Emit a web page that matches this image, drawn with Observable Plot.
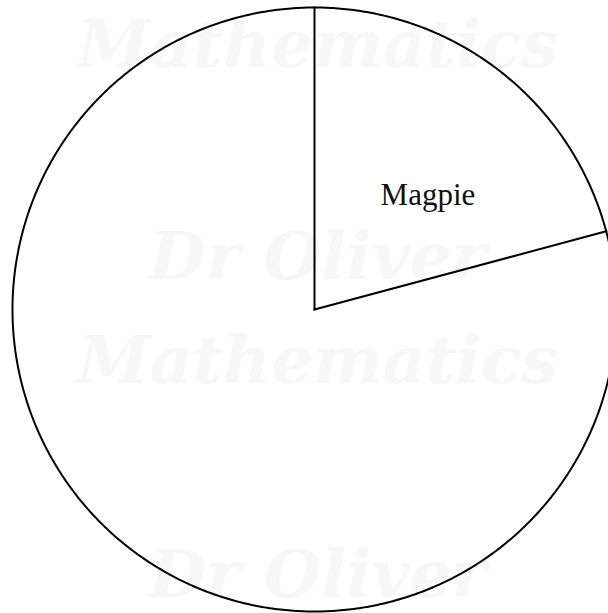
<!DOCTYPE html>
<html>
<head>
<meta charset="utf-8">
<script src="https://cdn.jsdelivr.net/npm/d3@7"></script>
<script src="https://cdn.jsdelivr.net/npm/@observablehq/plot@0.6"></script>
<style>
  html, body { margin: 0; padding: 0; background: #fff; }
  #chart svg { display: block; }
</style>
</head>
<body>
<div id="chart"></div>
<script>
// Slice data (degrees of the full circle)
const categories = ["Magpie", "Other"];
const values = [75, 285];
const labels = ["Magpie", ""];
const watermark = ["Mathematics", "Dr Oliver", "Mathematics", "Dr Oliver"];

const total = d3.sum(values);
let acc = 0;
const slices = categories.map((c, i) => {
  const a0 = acc / total * 2 * Math.PI;
  acc += values[i];
  const a1 = acc / total * 2 * Math.PI;
  return {category: c, label: labels[i], a0, a1, mid: (a0 + a1) / 2};
});

// circle outline (geometry only)
const outline = d3.range(0, 721).map(d => {
  const a = d / 720 * 2 * Math.PI;
  return {x: Math.sin(a), y: Math.cos(a)};
});

const radii = slices.map(s => ({x1: 0, y1: 0, x2: Math.sin(s.a0), y2: Math.cos(s.a0)}));

const labelR = 0.53;
const labelData = slices.filter(s => s.label).map(s => ({
  x: labelR * Math.sin(s.mid), y: labelR * Math.cos(s.mid), text: s.label
}));

// watermark rows, stacked down the frame
const wmRows = [0.874, 0.172, -0.175, -0.881];
const wm = watermark.map((t, i) => ({text: t, x: 0.01, y: wmRows[i]}));

const chart = Plot.plot({
  width: 608,
  height: 613,
  margin: 0,
  x: {domain: [-1.0397, 0.9735], axis: null},
  y: {domain: [-1.0066, 1.0232], axis: null},
  marks: [
    Plot.text(wm, {
      x: "x", y: "y",
      text: "text",
      fontSize: 66,
      fontStyle: "italic",
      fontWeight: "bold",
      fontFamily: "DejaVu Serif",
      fill: "#f7f7f7",
      lineAnchor: "middle"
    }),
    Plot.line(outline, {x: "x", y: "y", stroke: "black", strokeWidth: 2, curve: "linear"}),
    Plot.link(radii, {x1: "x1", y1: "y1", x2: "x2", y2: "y2", stroke: "black", strokeWidth: 2, strokeLinecap: "square"}),
    Plot.text(labelData, {
      x: "x", y: "y", text: "text",
      dx: 16, dy: 13,
      fontSize: 31,
      fontFamily: "Liberation Serif",
      fill: "#111",
      lineAnchor: "middle"
    })
  ]
});
document.getElementById("chart").appendChild(chart);
</script>
</body>
</html>
